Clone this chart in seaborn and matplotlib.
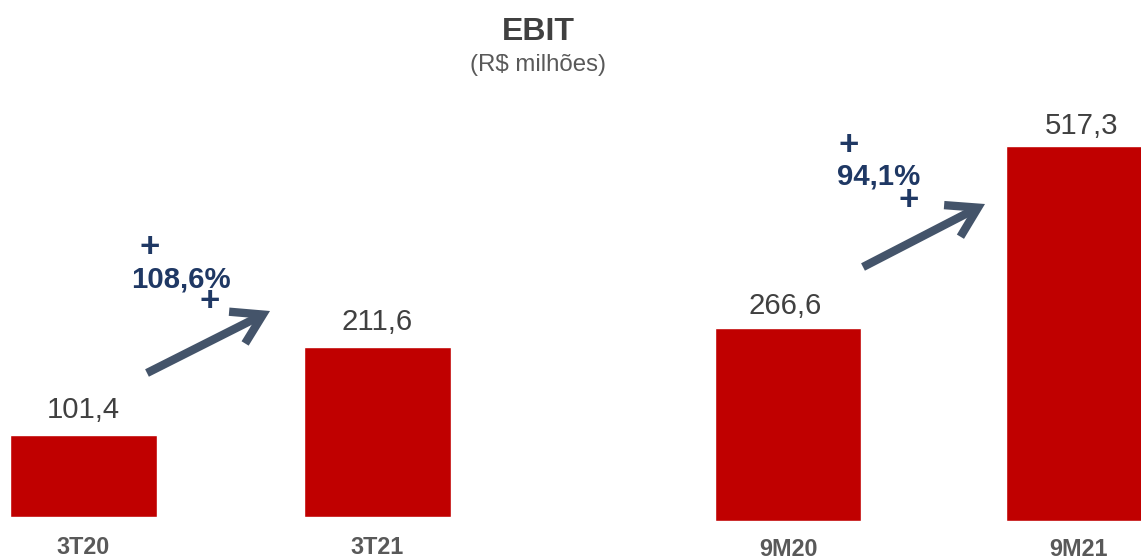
import matplotlib
matplotlib.use("Agg")
import matplotlib.pyplot as plt
import seaborn as sns
import pandas as pd

sns.set_theme(style="white")
plt.rcParams['font.family'] = ['Liberation Sans', 'DejaVu Sans']

left_categories = ["3T20", "3T21"]
left_values = [101.4, 211.6]
right_categories = ["9M20", "9M21"]
right_values = [266.6, 517.3]
left_growth = "108,6%"
right_growth = "94,1%"
title = "EBIT"
subtitle = "(R$ milhões)"

W, H = 1141, 558
fig = plt.figure(figsize=(W / 100, H / 100), dpi=100, facecolor="white")


def px_axes(x0, x1, ybase, ytop):
    return fig.add_axes([x0 / W, 1 - ybase / H, (x1 - x0) / W, (ybase - ytop) / H])


def fx(x):
    return x / W


def fy(y):
    return 1 - y / H


def panel(cats, vals, x0, x1, ybase, ytop, ymax, xmax, pad, label_dx, label_dy):
    ax = px_axes(x0, x1, ybase, ytop)
    df = pd.DataFrame({"cat": cats, "val": vals})
    sns.barplot(data=df, x="cat", y="val", color="#C00000", saturation=1,
                width=0.5, ax=ax)
    ax.set_xlim(-0.25, xmax)
    ax.set_ylim(0, ymax)
    ax.set_xlabel("")
    ax.set_ylabel("")
    ax.set_yticks([])
    ax.tick_params(axis="x", length=0, pad=pad, labelsize=16.8, labelcolor="#595959")
    for lab in ax.get_xticklabels():
        lab.set_fontweight("bold")
    for s in ax.spines.values():
        s.set_visible(False)
    ax.patch.set_alpha(0)
    for cont in ax.containers:
        labels = [f"{v:.1f}".replace(".", ",") for v in cont.datavalues]
        anns = ax.bar_label(cont, labels=labels, fontsize=21.2, color="#404040",
                            padding=8, clip_on=False)
        for ann, dx, dy in zip(anns, label_dx, label_dy):
            ann.xyann = (dx * 0.72, ann.xyann[1] + dy * 0.72)
    return ax


panel(left_categories, left_values, 9.5, 451, 517, 117, 400 / 0.805, 1.25, 14,
      [0, 0], [0, 0])
panel(right_categories, right_values, 715.5, 1141, 521, 101, 420 / 0.725,
      (1141 - 788.1) / 290.5, 12, [-3, 2.5], [-3, -5])

fig.text(fx(538.5), fy(32), title, ha="center", va="center", fontsize=23,
         fontweight="bold", color="#404040")
fig.text(fx(538), fy(65), subtitle, ha="center", va="center", fontsize=17.3,
         color="#595959")

navy = "#1F3864"
for txt, x, y in [(left_growth, 181, 279), (right_growth, 879, 177)]:
    fig.text(fx(x), fy(y), txt, ha="center", va="center", fontsize=21.2,
             fontweight="bold", color=navy)
for x, y in [(150, 247), (210, 301), (849, 146), (909, 200)]:
    fig.text(fx(x), fy(y), "+", ha="center", va="center", fontsize=25,
             fontweight="bold", color=navy)

for (x0, y0), (x1, y1) in [((147, 373), (270, 311)), ((863, 267), (985, 204))]:
    fig.add_artist(matplotlib.patches.FancyArrowPatch(
        (fx(x0), fy(y0)), (fx(x1), fy(y1)), transform=fig.transFigure,
        arrowstyle="->,head_length=13,head_width=8", mutation_scale=1.6,
        lw=6, color="#44546A", shrinkA=0, shrinkB=0, joinstyle="miter",
        capstyle="butt"))

fig.savefig("out.png", dpi=100)
